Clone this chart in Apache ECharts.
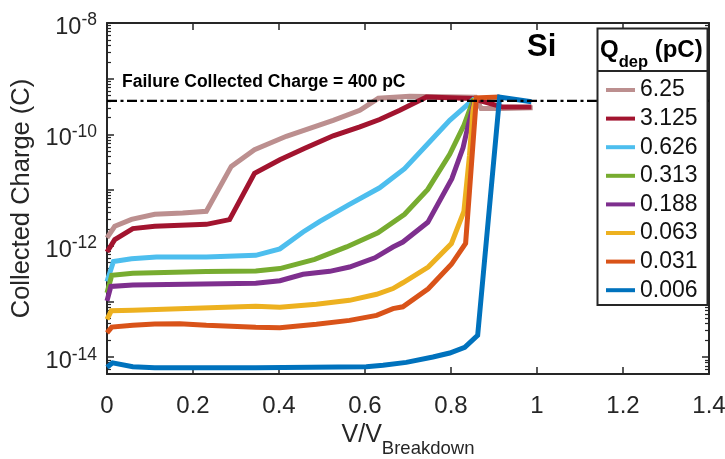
<!DOCTYPE html>
<html><head><meta charset="utf-8">
<script src="https://cdn.jsdelivr.net/npm/echarts@6/dist/echarts.min.js"></script>
<style>html,body{margin:0;padding:0;background:#fff}#c{width:725px;height:459px}</style>
</head><body><div id="c"></div>
<script>
// ---- data (V/V_Breakdown, Collected Charge in C) ----
const seriesNames = ['6.25', '3.125', '0.626', '0.313', '0.188', '0.063', '0.031', '0.006'];
const seriesColors = ['#BC8F8F', '#A2142F', '#4DBEEE', '#77AC30', '#7E2F8E', '#EDB120', '#D95319', '#0072BD'];

const v_625 = [0, 0.018, 0.057, 0.111, 0.176, 0.231, 0.289, 0.343, 0.417, 0.526, 0.588, 0.631, 0.704, 0.857, 0.87, 0.92, 0.99];
const q_625 = [1.39e-12, 2.24e-12, 2.99e-12, 3.68e-12, 3.88e-12, 4.16e-12, 2.67e-11, 5.30e-11, 9.25e-11, 1.79e-10, 2.71e-10, 4.45e-10, 4.83e-10, 4.63e-10, 2.92e-10, 2.92e-10, 3.02e-10];

const v_3125 = [0, 0.018, 0.06, 0.111, 0.231, 0.285, 0.343, 0.402, 0.46, 0.526, 0.588, 0.634, 0.681, 0.743, 0.85, 0.92, 0.987];
const q_3125 = [7.74e-13, 1.29e-12, 2.04e-12, 2.24e-12, 2.43e-12, 2.95e-12, 2.0e-11, 3.5e-11, 5.62e-11, 9.44e-11, 1.37e-10, 1.85e-10, 2.71e-10, 4.69e-10, 4.40e-10, 3.10e-10, 3.10e-10];

const v_0626 = [0, 0.015, 0.057, 0.115, 0.231, 0.346, 0.402, 0.456, 0.495, 0.564, 0.634, 0.692, 0.75, 0.797, 0.855];
const q_0626 = [2.29e-13, 5.25e-13, 5.85e-13, 6.31e-13, 6.31e-13, 6.76e-13, 8.83e-13, 1.77e-12, 2.75e-12, 5.56e-12, 1.10e-11, 2.43e-11, 7.31e-11, 1.79e-10, 4.45e-10];

const v_0313 = [0, 0.011, 0.06, 0.231, 0.346, 0.402, 0.483, 0.557, 0.63, 0.692, 0.746, 0.797, 0.83, 0.853];
const q_0313 = [1.43e-13, 2.95e-13, 3.21e-13, 3.47e-13, 3.53e-13, 3.90e-13, 5.73e-13, 9.55e-13, 1.71e-12, 3.68e-12, 1.03e-11, 4.40e-11, 1.46e-10, 4.37e-10];

const v_0188 = [0, 0.009, 0.06, 0.346, 0.402, 0.456, 0.518, 0.564, 0.623, 0.665, 0.688, 0.746, 0.802, 0.828, 0.84, 0.855];
const q_0188 = [1.03e-13, 1.87e-13, 1.98e-13, 2.12e-13, 2.36e-13, 3.08e-13, 3.48e-13, 4.17e-13, 6.10e-13, 9.51e-13, 1.17e-12, 2.64e-12, 1.61e-11, 5.75e-11, 1.46e-10, 4.09e-10];

const v_0063 = [0, 0.01, 0.06, 0.346, 0.402, 0.487, 0.564, 0.627, 0.665, 0.688, 0.747, 0.801, 0.83, 0.843, 0.851, 0.857];
const q_0063 = [4.79e-14, 6.81e-14, 6.95e-14, 8.20e-14, 7.87e-14, 8.91e-14, 1.05e-13, 1.35e-13, 1.71e-13, 2.17e-13, 4.16e-13, 1.10e-12, 4.16e-12, 4.22e-11, 2.71e-10, 4.45e-10];

const v_0031 = [0, 0.011, 0.06, 0.111, 0.169, 0.231, 0.346, 0.402, 0.487, 0.564, 0.627, 0.665, 0.688, 0.747, 0.801, 0.834, 0.859, 0.913];
const q_0031 = [2.74e-14, 3.48e-14, 3.74e-14, 3.94e-14, 4.01e-14, 3.74e-14, 3.44e-14, 3.40e-14, 3.90e-14, 4.59e-14, 5.65e-14, 7.45e-14, 8.04e-14, 1.69e-13, 4.66e-13, 1.11e-12, 4.54e-10, 4.69e-10];

const v_0006 = [0, 0.013, 0.06, 0.111, 0.346, 0.603, 0.642, 0.696, 0.758, 0.797, 0.832, 0.862, 0.913, 0.987];
const q_0006 = [6.59e-15, 7.94e-15, 6.73e-15, 6.46e-15, 6.46e-15, 6.73e-15, 7.16e-15, 8.09e-15, 1.01e-14, 1.19e-14, 1.51e-14, 2.47e-14, 4.69e-10, 3.85e-10];

const failureV = [0, 1.4];
const failureQ = [4e-10, 4e-10];

const yLabelDecades = [-14, -12, -10, -8];
const yMajorDecades = [-14, -13, -12, -11, -10, -9, -8];

// ---- build ----
const allV = [v_625, v_3125, v_0626, v_0313, v_0188, v_0063, v_0031, v_0006];
const allQ = [q_625, q_3125, q_0626, q_0313, q_0188, q_0063, q_0031, q_0006];
const yMin = Math.log10(5e-15), yMax = -8;
const minorTicks = [];
for (let n = -15; n < -8; n++) for (let k = 2; k <= 9; k++) {
  const t = n + Math.log10(k);
  if (t > yMin && t < yMax) minorTicks.push(t);
}
const FONT = 'Liberation Sans, Arial, Helvetica, sans-serif';
const AX = '#262626';
const pairs = (vs, qs) => vs.map((v, i) => [v, Math.log10(qs[i])]);

const series = seriesNames.map((n, i) => ({
  name: n, type: 'line', xAxisIndex: 0, yAxisIndex: 0,
  data: pairs(allV[i], allQ[i]), showSymbol: false, symbol: 'none',
  lineStyle: { color: seriesColors[i], width: 5, join: 'miter' },
  itemStyle: { color: seriesColors[i] }, z: 2, animation: false
}));
series.push({
  name: 'failure', type: 'line', xAxisIndex: 0, yAxisIndex: 0,
  data: pairs(failureV, failureQ), showSymbol: false, symbol: 'none',
  lineStyle: { color: '#000', width: 2.2, type: [10, 3.5, 3, 3.5] }, z: 3, animation: false
});

const baseAxisLine = { show: true, lineStyle: { color: AX, width: 2 } };
const yBase = { type: 'value', min: yMin, max: yMax, splitLine: { show: false } };

const option = {
  animation: false,
  grid: { left: 107, right: 16, top: 23, bottom: 85, containLabel: false, outerBoundsMode: 'none' },
  xAxis: [
    { type: 'value', position: 'bottom', min: 0, max: 1.4, interval: 0.2,
      axisLine: baseAxisLine, splitLine: { show: false },
      axisTick: { inside: true, length: 7, lineStyle: { color: AX, width: 1.5 } },
      axisLabel: { color: AX, fontSize: 24, fontFamily: FONT, margin: 20,
        formatter: v => String(Math.round(v * 10) / 10) },
      name: '{b|V/V}{sub|Breakdown}', nameLocation: 'middle', nameGap: 46,
      nameTextStyle: { color: AX, fontSize: 25, fontFamily: FONT,
        rich: {
          b: { fontSize: 25, lineHeight: 25, verticalAlign: 'top', fontFamily: FONT, color: AX },
          sub: { fontSize: 18.5, lineHeight: 19, fontFamily: FONT, color: AX, padding: [17, 0, 0, 0], verticalAlign: 'top' } } } },
    { type: 'value', position: 'top', min: 0, max: 1.4, interval: 0.2,
      axisLine: baseAxisLine, splitLine: { show: false },
      axisTick: { inside: true, length: 7, lineStyle: { color: AX, width: 1.5 } },
      axisLabel: { show: false } }
  ],
  yAxis: [
    Object.assign({}, yBase, { position: 'left',
      axisLine: baseAxisLine,
      axisTick: { inside: true, length: 7, customValues: yMajorDecades, lineStyle: { color: AX, width: 1.5 } },
      axisLabel: { customValues: yLabelDecades, margin: 10, color: AX, fontFamily: FONT,
        formatter: v => '{b|10}{s|' + Math.round(v) + '}',
        rich: {
          b: { fontSize: 23.5, lineHeight: 23, padding: [4, 0, 0, 0], verticalAlign: 'top', color: AX, fontFamily: FONT },
          s: { fontSize: 17.5, lineHeight: 18, verticalAlign: 'top', color: AX, fontFamily: FONT }
        } },
      name: 'Collected Charge (C)', nameLocation: 'middle', nameGap: 70,
      nameTextStyle: { color: AX, fontSize: 25.5, fontFamily: FONT } }),
    Object.assign({}, yBase, { position: 'left', axisLine: { show: false },
      axisTick: { inside: true, length: 4, customValues: minorTicks, lineStyle: { color: AX, width: 1.2 } },
      axisLabel: { show: false } }),
    Object.assign({}, yBase, { position: 'right', axisLine: baseAxisLine,
      axisTick: { inside: true, length: 7, customValues: yMajorDecades, lineStyle: { color: AX, width: 1.5 } },
      axisLabel: { show: false } }),
    Object.assign({}, yBase, { position: 'right', axisLine: { show: false },
      axisTick: { inside: true, length: 4, customValues: minorTicks, lineStyle: { color: AX, width: 1.2 } },
      axisLabel: { show: false } })
  ],
  legend: {
    data: seriesNames, orient: 'vertical', left: 606, top: 78.5, z: 200, padding: 0,
    itemWidth: 29, itemHeight: 4, itemGap: 5.6, icon: 'rect',
    textStyle: { fontSize: 23, lineHeight: 21, color: '#111', fontFamily: FONT },
    selectedMode: false
  },
  graphic: [
    { type: 'rect', z: 100, shape: { x: 597.5, y: 28.5, width: 110, height: 276.5 },
      style: { fill: '#fff', stroke: AX, lineWidth: 2 } },
    { type: 'line', z: 101, shape: { x1: 597.5, y1: 71, x2: 707.5, y2: 71 },
      style: { stroke: AX, lineWidth: 2 } },
    { type: 'text', z: 101, x: 600, y: 38,
      style: { text: '{q|Q}{d|dep}{q| (pC)}', fill: '#000',
        rich: {
          q: { fontSize: 24, fontWeight: 'bold', fontFamily: FONT, lineHeight: 24, verticalAlign: 'top', fill: '#000' },
          d: { fontSize: 16.5, fontWeight: 'bold', fontFamily: FONT, lineHeight: 16.5, padding: [16, 0, 0, 0], verticalAlign: 'top', fill: '#000' }
        } } },
    { type: 'text', z: 101, x: 527, y: 32,
      style: { text: 'Si', fontSize: 31, fontWeight: 'bold', fontFamily: FONT, fill: '#000' } },
    { type: 'text', z: 101, x: 122, y: 73,
      style: { text: 'Failure Collected Charge = 400 pC', fontSize: 17.5, fontWeight: 'bold', fontFamily: FONT, fill: '#000' } }
  ],
  series: series
};
const chart = echarts.init(document.getElementById('c'), null, { renderer: 'canvas' });
chart.setOption(option);
</script></body></html>
